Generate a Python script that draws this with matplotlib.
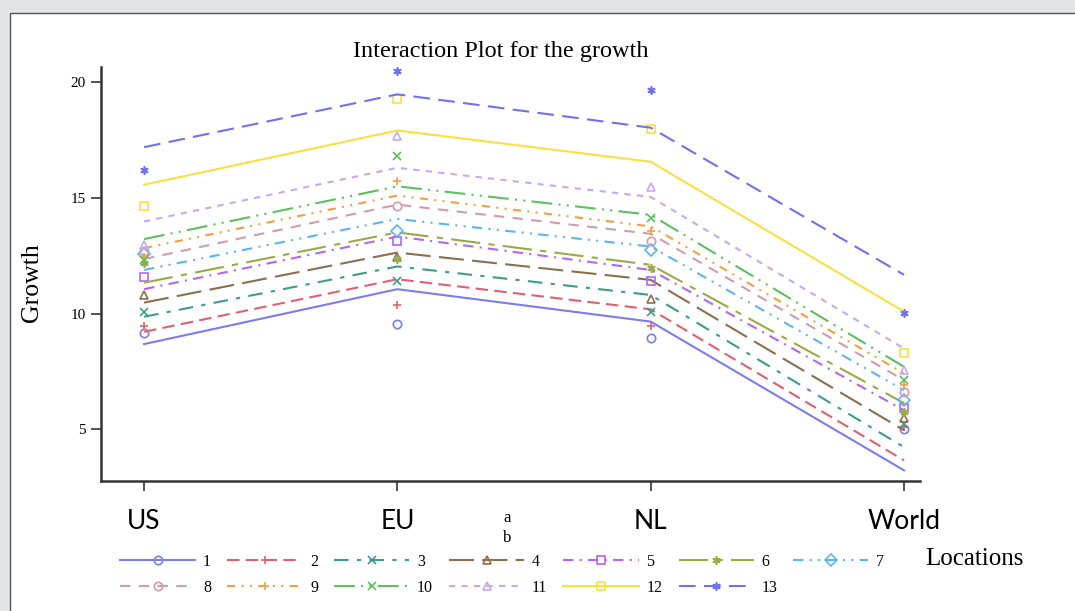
import numpy as np
import matplotlib
matplotlib.use('Agg')
import matplotlib.pyplot as plt
from matplotlib.lines import Line2D
from matplotlib.patches import Rectangle


# ==========================
#      Data (read off)
# ==========================

locations = ['US', 'EU', 'NL', 'World']
groups = ['1', '2', '3', '4', '5', '6', '7', '8', '9', '10', '11', '12', '13']

# fitted lines per group (US, EU, NL, World)
fit_1 = [8.68, 11.05, 9.65, 3.23]
fit_2 = [9.21, 11.48, 10.18, 3.66]
fit_3 = [9.86, 12.03, 10.80, 4.23]
fit_4 = [10.47, 12.63, 11.45, 4.96]
fit_5 = [11.05, 13.32, 11.88, 5.82]
fit_6 = [11.33, 13.50, 12.10, 6.13]
fit_7 = [11.88, 14.08, 12.89, 6.69]
fit_8 = [12.35, 14.70, 13.44, 7.12]
fit_9 = [12.82, 15.09, 13.76, 7.41]
fit_10 = [13.21, 15.49, 14.26, 7.70]
fit_11 = [13.97, 16.29, 15.03, 8.49]
fit_12 = [15.56, 17.90, 16.55, 10.08]
fit_13 = [17.18, 19.46, 18.02, 11.67]

# observed points per group (US, EU, NL, World)
obs_1 = [9.14, 9.55, 8.93, 5.00]
obs_2 = [9.45, 10.37, 9.47, 5.10]
obs_3 = [10.05, 11.40, 10.08, 5.22]
obs_4 = [10.78, 12.45, 10.63, 5.49]
obs_5 = [11.58, 13.11, 11.42, 5.94]
obs_6 = [12.17, 12.35, 11.96, 5.75]
obs_7 = [12.55, 13.58, 12.72, 6.26]
obs_8 = [12.68, 14.62, 13.15, 6.61]
obs_9 = [12.45, 15.71, 13.58, 6.90]
obs_10 = [12.30, 16.79, 14.12, 7.12]
obs_11 = [12.97, 17.65, 15.45, 7.55]
obs_12 = [14.65, 19.27, 17.97, 8.28]
obs_13 = [16.21, 20.47, 19.63, 10.03]

fits = [fit_1, fit_2, fit_3, fit_4, fit_5, fit_6, fit_7,
        fit_8, fit_9, fit_10, fit_11, fit_12, fit_13]
obs = [obs_1, obs_2, obs_3, obs_4, obs_5, obs_6, obs_7,
       obs_8, obs_9, obs_10, obs_11, obs_12, obs_13]

# ==========================
#        Styles
# ==========================
colors = ['#7b7bf5', '#e0606e', '#3d9b8b', '#8c6e4e', '#b565f0',
          '#9aaa44', '#5ab4f5', '#d49aad', '#f0a040', '#5cc05c',
          '#c4a8f8', '#f8e040', '#7070f0']
styles = ['-', (0, (6, 3)), (0, (7, 4, 2, 4)), (0, (12, 4)),
          (0, (5, 3, 1, 3)), (0, (14, 4, 3, 4)), (0, (5, 3, 1, 3, 1, 3)),
          (0, (5, 4)), (0, (4, 3, 1, 3, 1, 3)), (0, (10, 3, 1, 3, 1, 3)),
          (0, (3, 3)), '-', (0, (8, 4))]
markers = ['o', '+', 'x', '^', 's', (6, 2, 0), 'D',
           'o', '+', 'x', '^', 's', (6, 2, 0)]

serif = 'Liberation Serif'

fig = plt.figure(figsize=(10.75, 6.11), dpi=100, facecolor='#e2e5e8')
fig.patches.append(Rectangle((10/1075, -0.01), 1.0, 1 - 13/611 + 0.01,
                             transform=fig.transFigure, facecolor='white',
                             edgecolor='#555555', linewidth=1.0, zorder=-1))

ax = fig.add_axes([101/1075, 1 - 481/611, 819/1075, 414/611])
ax.set_facecolor('none')

x = np.arange(1, len(locations) + 1)
handles = []
for i in range(len(groups)):
    ax.plot(x, fits[i], color=colors[i], linestyle=styles[i], lw=1.5)
    ax.plot(x, obs[i], color=colors[i], linestyle='none', marker=markers[i],
            markerfacecolor='none', markersize=6, markeredgewidth=1.2)
    handles.append(Line2D([], [], color=colors[i], linestyle=styles[i], lw=1.5,
                          marker=markers[i], markerfacecolor='none',
                          markersize=6, markeredgewidth=1.2))

ax.set_xlim(0.83, 4.063)
ax.set_ylim(2.77, 20.64)
ax.set_xticks(x)
ax.set_xticklabels(locations, fontsize=19, family='Lato')
ax.set_yticks([5, 10, 15, 20])
ax.set_yticklabels(['5', '10', '15', '20'], fontsize=11, family=serif)
ax.tick_params(axis='x', length=7, width=1.2, pad=13, colors='#333333',
               labelcolor='black')
ax.tick_params(axis='y', length=7, width=1.2, pad=4, colors='#333333',
               labelcolor='black')
for s in ['top', 'right']:
    ax.spines[s].set_visible(False)
for s in ['left', 'bottom']:
    ax.spines[s].set_linewidth(1.8)
    ax.spines[s].set_color('#333333')

ax.set_title('Interaction Plot for the growth', family=serif, fontsize=17.5,
             pad=7, x=0.488)
ax.set_ylabel('Growth', family=serif, fontsize=18.5)
ax.yaxis.set_label_coords(-0.071, 0.478)
ax.text(0.496, -0.07, 'a\nb', transform=ax.transAxes, ha='center', va='top',
        family=serif, fontsize=12, linespacing=1.3)

# legend: row-major 1-7 / 8-13 with 7 columns
order = [0, 7, 1, 8, 2, 9, 3, 10, 4, 11, 5, 12, 6]
leg = fig.legend([handles[k] for k in order], [groups[k] for k in order],
                 ncol=7, loc='upper left', bbox_to_anchor=(120/1075, 1 - 554/611),
                 frameon=False, borderpad=0, borderaxespad=0,
                 handlelength=4.7, handletextpad=0.5,
                 columnspacing=1.0, labelspacing=0.6,
                 prop={'family': serif, 'size': 11.5})
fig.text(925/1075, 1 - 559/611, 'Locations', family=serif, fontsize=18,
         va='center', ha='left')

plt.savefig('out.png', dpi=100, facecolor=fig.get_facecolor())
